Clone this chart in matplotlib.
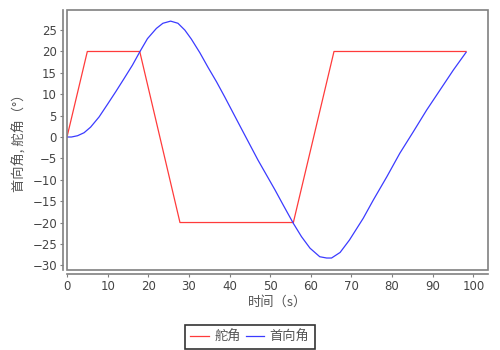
import matplotlib
matplotlib.use('Agg')
from matplotlib import pyplot as plt
from matplotlib.patches import Rectangle

plt.rcParams['font.family'] = ['Noto Sans CJK SC', 'DejaVu Sans']

# rudder angle (red)
t_rudder = [0, 5.0, 17.9, 27.8, 55.7, 65.7, 98.2]
rudder = [0, 20, 20, -20, -20, 20, 20]

# heading angle (blue)
t_heading = [0, 1.1, 2.6, 4.2, 5.8, 7.9, 10.0, 12.0, 14.0, 16.1, 17.9, 19.8, 22.0,
             23.6, 25.5, 27.3, 29.0, 30.6, 32.7, 34.7, 36.8, 38.8, 40.9, 43.0, 45.0,
             47.0, 49.1, 51.2, 53.2, 55.7, 57.7, 59.8, 62.2, 63.9, 65.1, 67.2, 69.5,
             72.9, 75.4, 78.7, 81.9, 85.2, 88.5, 91.8, 95.1, 98.2]
heading = [0, 0.0, 0.3, 1.0, 2.3, 4.7, 7.7, 10.6, 13.6, 16.8, 19.9, 23.0, 25.4,
           26.6, 27.1, 26.6, 25.0, 22.9, 19.7, 16.3, 12.9, 9.4, 5.6, 1.8, -1.8,
           -5.4, -8.9, -12.4, -15.9, -20.2, -23.3, -26.0, -28.0, -28.3, -28.3, -27.0, -24.1,
           -19.0, -14.7, -9.3, -3.8, 1.2, 6.3, 11.0, 15.7, 19.8]

x_ticks = list(range(0, 101, 10))
y_ticks = list(range(-30, 26, 5))

fig = plt.figure(figsize=(5, 3.5), dpi=100)
ax = fig.add_axes([0.134, 0.2286, 0.842, 0.7428])

ax.plot(t_rudder, rudder, color='#ff3b3b', lw=0.9, label='舵角')
ax.plot(t_heading, heading, color='#3b3bff', lw=0.9, label='首向角')

ax.set_xlim(0, 103.6)
ax.set_ylim(-31.1, 29.7)
ax.set_xticks(x_ticks)
ax.set_yticks(y_ticks)

# plot border plus offset axis lines like the original
ax.add_patch(Rectangle((0, 0), 1, 1, transform=ax.transAxes, fill=False,
                       edgecolor='#808080', lw=1.2, clip_on=False, zorder=5))
for s in ['top', 'right']:
    ax.spines[s].set_visible(False)
for s in ['left', 'bottom']:
    ax.spines[s].set_position(('outward', 3))
    ax.spines[s].set_color('#808080')
    ax.spines[s].set_linewidth(1.2)

ax.tick_params(direction='out', length=2.2, width=0.8, color='#808080',
               labelcolor='#444444', labelsize=8.5, pad=2)
for lab in ax.get_xticklabels() + ax.get_yticklabels():
    lab.set_family('DejaVu Sans')

ax.set_xlabel('时间（s）', fontsize=9.5, color='#555555', labelpad=2)
ax.set_ylabel('首向角, 舵角（°）', fontsize=9.5, color='#555555')
ax.yaxis.set_label_coords(-0.095, 0.5)

leg = fig.legend(loc='lower center', bbox_to_anchor=(0.5, 0.0), ncol=2,
                 fontsize=9.5, frameon=True, fancybox=False, handlelength=1.4,
                 handletextpad=0.4, columnspacing=0.4, borderpad=0.4,
                 borderaxespad=0.1)
leg.get_frame().set_edgecolor('black')
leg.get_frame().set_linewidth(1.2)
for txt in leg.get_texts():
    txt.set_color('#555555')

fig.savefig('out.png', dpi=100)
